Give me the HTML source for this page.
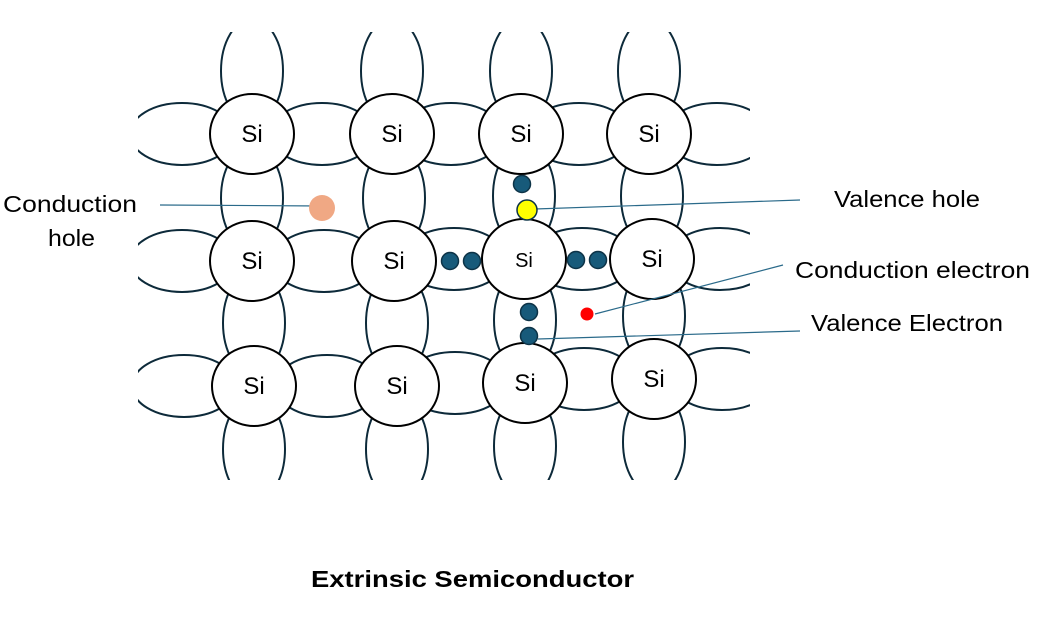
<!DOCTYPE html>
<html><head><meta charset="utf-8"><style>
html,body{margin:0;padding:0;background:#fff;}
svg{display:block;font-family:"Liberation Sans",sans-serif;}
</style></head><body>
<svg width="1050" height="620" viewBox="0 0 1050 620">
<defs><clipPath id="c"><rect x="138" y="32" width="612" height="448"/></clipPath></defs>
<g id="bonds" clip-path="url(#c)" fill="none" stroke="#0d2a3a" stroke-width="2"></g>
<g id="atoms"></g>
<g id="lines" stroke="#2a6a8a" stroke-width="1.2">
<line x1="160" y1="205" x2="322" y2="206"/>
<line x1="535" y1="209" x2="800" y2="200"/>
<line x1="595" y1="314" x2="783" y2="265"/>
<line x1="538" y1="339" x2="800" y2="331"/>
</g>
<g id="particles"></g>
<g font-size="23" fill="#000">
<text x="3" y="212" textLength="134" lengthAdjust="spacingAndGlyphs">Conduction</text>
<text x="48" y="246" textLength="47" lengthAdjust="spacingAndGlyphs">hole</text>
<text x="834" y="207" textLength="146" lengthAdjust="spacingAndGlyphs">Valence hole</text>
<text x="795" y="278" textLength="235" lengthAdjust="spacingAndGlyphs">Conduction electron</text>
<text x="811" y="331" textLength="192" lengthAdjust="spacingAndGlyphs">Valence Electron</text>
<text x="311" y="587" font-weight="bold" textLength="323" lengthAdjust="spacingAndGlyphs">Extrinsic Semiconductor</text>
</g>
</svg>
<script>
const NS="http://www.w3.org/2000/svg";
const atomX=[[252,392,521,649],[252,394,524,652],[254,397,525,654]];
const atomY=[[134,134,134,134],[261,261,259,259],[386,386,383,379]];
const bonds=document.getElementById('bonds'),atoms=document.getElementById('atoms'),parts=document.getElementById('particles');
function mk(p,tag,a){const e=document.createElementNS(NS,tag);for(const k in a)e.setAttribute(k,a[k]);p.appendChild(e);return e;}
for(let r=0;r<3;r++)for(let c=0;c<4;c++){
 const x=atomX[r][c],y=atomY[r][c];
 const h=mk(bonds,'ellipse',{cx:x-70,cy:y,rx:52,ry:31});
 
 
 if(c===3){const h2=mk(bonds,'ellipse',{cx:x+68,cy:y,rx:52,ry:31});
  
  }
 const v=mk(bonds,'ellipse',{cx:x,cy:y-63,rx:31,ry:52});
 
 
 if(r===2){const v2=mk(bonds,'ellipse',{cx:x,cy:y+63,rx:31,ry:52});
  
  }
}
for(let r=0;r<3;r++)for(let c=0;c<4;c++){
 const x=atomX[r][c],y=atomY[r][c];
 const g=mk(atoms,'g',{});
 
 
 mk(g,'ellipse',{cx:x,cy:y,rx:42,ry:40,fill:'#fff',stroke:'#000','stroke-width':2});
 const t=mk(g,'text',{x:x,y:y+8,'text-anchor':'middle','font-size':(r===1&&c===2)?20:24});
 t.textContent='Si';
}
const eX=[522,450,472,576,598,529,529],eY=[184,261,261,260,260,312,336];
for(let i=0;i<eX.length;i++){const e=mk(parts,'circle',{cx:eX[i],cy:eY[i],r:8.5,fill:'#175a7a',stroke:'#0d3347','stroke-width':1.5});
 
 }
const y1=mk(parts,'circle',{cx:527,cy:210,r:10,fill:'#ffff00',stroke:'#0d3347','stroke-width':1.5});


const rd=mk(parts,'circle',{cx:587,cy:314,r:6.5,fill:'#ff0000'});


const oh=mk(parts,'circle',{cx:322,cy:208,r:13,fill:'#f0a884'});


</script>
</body></html>
